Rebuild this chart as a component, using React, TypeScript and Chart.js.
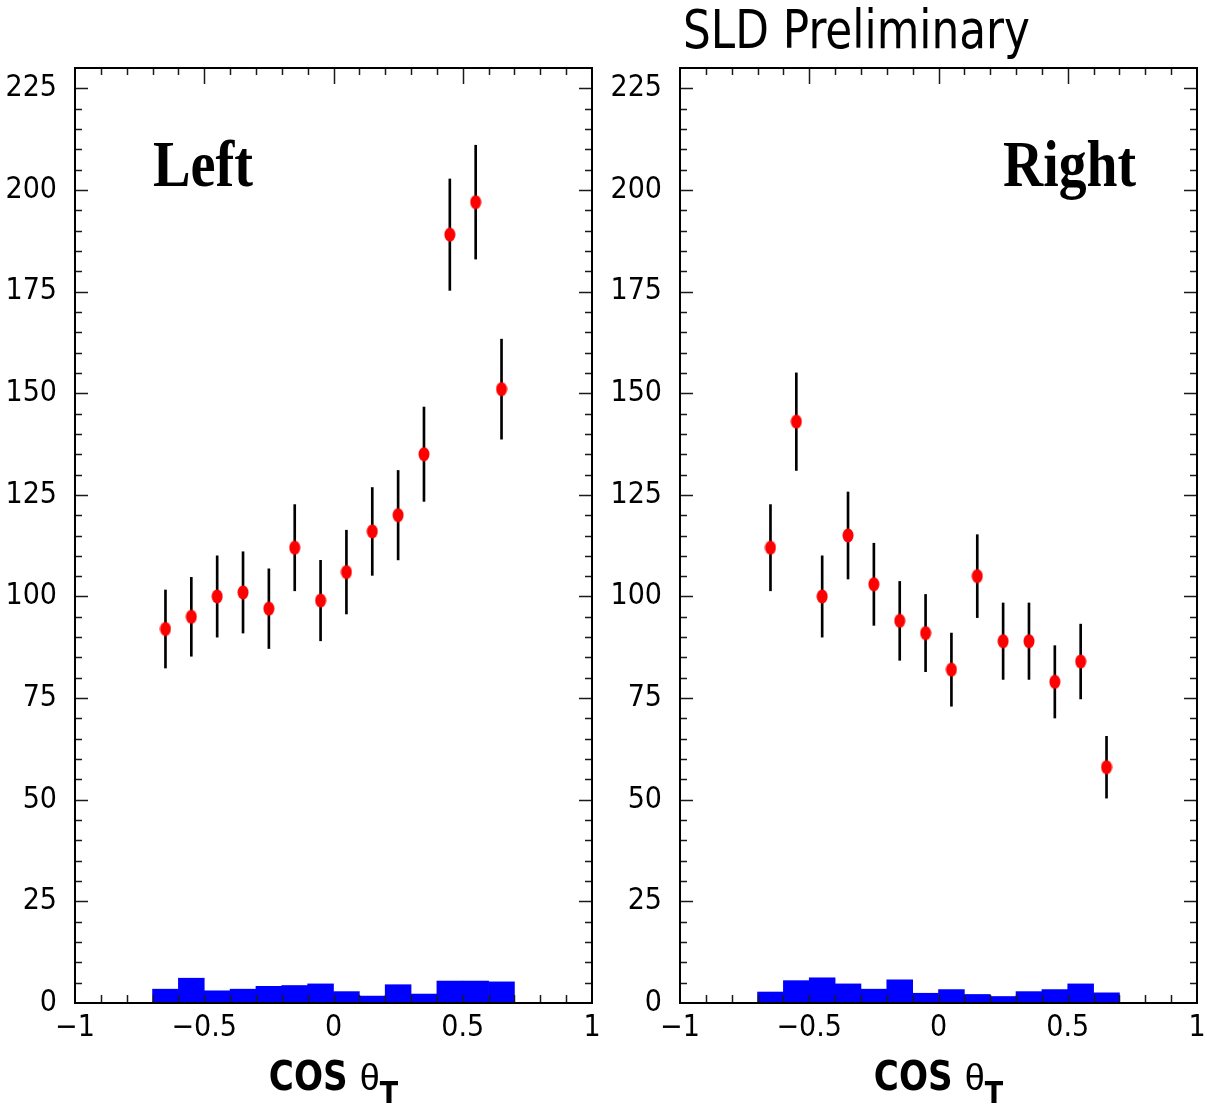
import React, { useEffect, useRef } from "react";
import { Chart, registerables } from "chart.js";

Chart.register(...registerables);

// ---- data ----
const binCenters = [-0.65, -0.55, -0.45, -0.35, -0.25, -0.15, -0.05, 0.05, 0.15, 0.25, 0.35, 0.45, 0.55, 0.65];

const leftValues = [92, 95, 100, 101, 97, 112, 99, 106, 116, 120, 135, 189, 197, 151];
const leftErrors = [9.6, 9.7, 10, 10, 9.8, 10.6, 9.9, 10.3, 10.8, 11, 11.6, 13.7, 14, 12.3];
const leftBackground = [3.4, 6.1, 3.0, 3.4, 4.1, 4.3, 4.7, 2.8, 1.7, 4.5, 2.2, 5.4, 5.4, 5.2];

const rightValues = [112, 143, 100, 115, 103, 94, 91, 82, 105, 89, 89, 79, 84, 58];
const rightErrors = [10.6, 12, 10, 10.7, 10.1, 9.7, 9.5, 9, 10.2, 9.4, 9.4, 8.9, 9.2, 7.6];
const rightBackground = [2.7, 5.5, 6.2, 4.7, 3.4, 5.7, 2.4, 3.3, 2.1, 1.6, 2.8, 3.3, 4.7, 2.5];

const yTicks = [0, 25, 50, 75, 100, 125, 150, 175, 200, 225];
const xTicks = [-1, -0.5, 0, 0.5, 1];
const xTickLabels = ["\u22121", "\u22120.5", "0", "0.5", "1"];

const Y_MIN = 0;
const Y_MAX = 230;

const NARROW = "'Liberation Sans Narrow', 'DejaVu Sans Condensed', 'Liberation Sans', sans-serif";
const SERIF = "'Liberation Serif', 'DejaVu Serif', serif";

function makeEllipse(): HTMLCanvasElement {
  const c = document.createElement("canvas");
  c.width = 12;
  c.height = 15;
  const g = c.getContext("2d")!;
  g.fillStyle = "#ff0000";
  g.beginPath();
  g.ellipse(6, 7.5, 5.5, 7, 0, 0, Math.PI * 2);
  g.fill();
  return c;
}

function fitText(ctx: CanvasRenderingContext2D, text: string, font: string, x: number, baseline: number, targetWidth: number) {
  ctx.font = font;
  const w = ctx.measureText(text).width || 1;
  ctx.save();
  ctx.translate(x, baseline);
  ctx.scale(targetWidth / w, 1);
  ctx.textAlign = "left";
  ctx.textBaseline = "alphabetic";
  ctx.fillText(text, 0, 0);
  ctx.restore();
}

const framePlugin = {
  id: "frame",
  afterDatasetsDraw(chart: any) {
    const { ctx, chartArea } = chart;
    const { left, right, top, bottom } = chartArea;
    const xs = chart.scales.x;
    const ys = chart.scales.y;
    ctx.save();
    ctx.strokeStyle = "#1a1a1a";
    ctx.lineWidth = 1.5;
    ctx.beginPath();
    for (let v = 5; v < Y_MAX; v += 5) {
      const py = Math.round(ys.getPixelForValue(v)) + 0.5;
      const major = v % 25 === 0;
      const len = major ? 13 : 7;
      ctx.moveTo(left, py);
      ctx.lineTo(left + len, py);
      ctx.moveTo(right, py);
      ctx.lineTo(right - len, py);
    }
    for (let i = -9; i <= 9; i++) {
      const v = i / 10;
      const px = Math.round(xs.getPixelForValue(v)) + 0.5;
      const major = i % 5 === 0;
      ctx.moveTo(px, top);
      ctx.lineTo(px, top + (major ? 16 : 7));
      ctx.moveTo(px, bottom);
      ctx.lineTo(px, bottom - 8);
    }
    ctx.stroke();
    ctx.lineWidth = 2;
    ctx.strokeStyle = "#000";
    ctx.strokeRect(left, top, right - left, bottom - top);
    ctx.restore();
  },
  afterDraw(chart: any, _args: any, opts: any) {
    const { ctx, chartArea } = chart;
    ctx.save();
    ctx.fillStyle = "#000";
    fitText(ctx, opts.label, `bold 65px ${SERIF}`, opts.labelX, 186, opts.labelWidth);
    if (opts.title) {
      fitText(ctx, opts.title, `54px ${NARROW}`, opts.titleX, 48, 347);
    }
    const cx = (chartArea.left + chartArea.right) / 2;
    const base = 1090;
    const fCos = `bold 40px ${NARROW}`;
    const fTheta = `36px 'Liberation Sans', 'DejaVu Sans', sans-serif`;
    const fSub = `bold 30px ${NARROW}`;
    ctx.font = fCos;
    const wCos = ctx.measureText("COS").width;
    ctx.font = fTheta;
    const wTheta = ctx.measureText("\u03b8").width;
    ctx.font = fSub;
    const wSub = ctx.measureText("T").width;
    const gap = 8;
    const total = wCos + gap + wTheta + wSub;
    let x = cx - total / 2;
    ctx.textAlign = "left";
    ctx.textBaseline = "alphabetic";
    fitText(ctx, "COS", fCos, x, base, wCos * 0.95);
    x += wCos + gap;
    ctx.font = fTheta;
    ctx.fillText("\u03b8", x, base);
    x += wTheta;
    ctx.font = fSub;
    ctx.fillText("T", x, base + 13);
    ctx.restore();
  },
};

type PanelCfg = {
  left: number;
  width: number;
  padRight: number;
  values: number[];
  errors: number[];
  background: number[];
  label: string;
  labelX: number;
  labelWidth: number;
  title?: string;
  titleX?: number;
};

function Panel({ cfg }: { cfg: PanelCfg }) {
  const ref = useRef<HTMLCanvasElement | null>(null);
  useEffect(() => {
    const ellipse = makeEllipse();
    const tickFont = { family: NARROW, size: 30, weight: "normal" as const };
    const chart = new Chart(ref.current!, {
      type: "bar",
      data: {
        datasets: [
          {
            type: "scatter",
            data: binCenters.map((x, i) => ({ x, y: cfg.values[i] })),
            pointStyle: ellipse as any,
            pointRadius: 6,
            order: 1,
          } as any,
          {
            type: "bar",
            data: binCenters.map((x, i) => ({ x, y: [cfg.values[i] - cfg.errors[i], cfg.values[i] + cfg.errors[i]] })),
            backgroundColor: "#000000",
            borderWidth: 0,
            barThickness: 2,
            grouped: false,
            order: 2,
          } as any,
          {
            type: "bar",
            data: binCenters.map((x, i) => ({ x, y: cfg.background[i] })),
            backgroundColor: "#0000ff",
            borderWidth: 0,
            barPercentage: 1,
            categoryPercentage: 1,
            grouped: false,
            order: 3,
          } as any,
        ],
      },
      options: {
        animation: false,
        responsive: false,
        maintainAspectRatio: false,
        events: [],
        layout: { padding: { top: 68, right: cfg.padRight, left: 0, bottom: 0 } },
        plugins: {
          legend: { display: false },
          tooltip: { enabled: false },
          frame: {
            label: cfg.label,
            labelX: cfg.labelX,
            labelWidth: cfg.labelWidth,
            title: cfg.title,
            titleX: cfg.titleX,
          },
        } as any,
        scales: {
          x: {
            type: "linear",
            min: -1,
            max: 1,
            offset: false,
            grid: { display: false, drawTicks: false },
            border: { display: false },
            afterBuildTicks: (s: any) => {
              s.ticks = xTicks.map((v) => ({ value: v }));
            },
            afterFit: (s: any) => {
              s.height = 104;
              s.paddingLeft = 0;
              s.paddingRight = 0;
            },
            ticks: {
              autoSkip: false,
              maxRotation: 0,
              padding: 7,
              color: "#000",
              font: tickFont,
              callback: (v: any) => xTickLabels[xTicks.indexOf(Number(v))],
            },
          },
          y: {
            type: "linear",
            min: Y_MIN,
            max: Y_MAX,
            grid: { display: false, drawTicks: false },
            border: { display: false },
            afterBuildTicks: (s: any) => {
              s.ticks = yTicks.map((v) => ({ value: v }));
            },
            afterFit: (s: any) => {
              s.width = 75;
              s.paddingTop = 0;
              s.paddingBottom = 0;
            },
            ticks: {
              padding: 18,
              color: "#000",
              font: tickFont,
              callback: (v: any) => String(v),
            },
          },
        },
      } as any,
      plugins: [framePlugin as any],
    });
    return () => chart.destroy();
  }, []);
  return (
    <canvas
      ref={ref}
      width={cfg.width}
      height={1107}
      style={{ position: "absolute", left: cfg.left, top: 0, display: "block" }}
    />
  );
}

const leftCfg: PanelCfg = {
  left: 0,
  width: 604,
  padRight: 12,
  values: leftValues,
  errors: leftErrors,
  background: leftBackground,
  label: "Left",
  labelX: 153,
  labelWidth: 100,
};

const rightCfg: PanelCfg = {
  left: 605,
  width: 602,
  padRight: 10,
  values: rightValues,
  errors: rightErrors,
  background: rightBackground,
  label: "Right",
  labelX: 398,
  labelWidth: 133,
  title: "SLD Preliminary",
  titleX: 78,
};

export default function App() {
  return (
    <div
      style={{
        position: "absolute",
        left: 0,
        top: 0,
        width: 1207,
        height: 1107,
        overflow: "hidden",
        background: "#fff",
      }}
    >
      <Panel cfg={leftCfg} />
      <Panel cfg={rightCfg} />
    </div>
  );
}
